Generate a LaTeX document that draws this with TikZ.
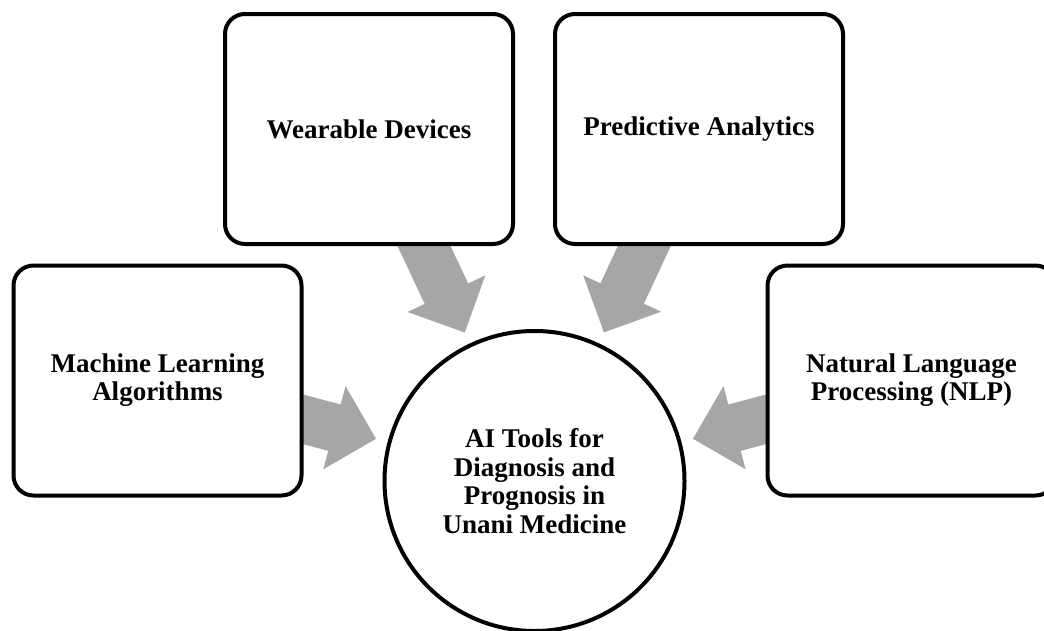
\documentclass[tikz,border=0pt]{standalone}
\usepackage{fontspec}
\setmainfont{Liberation Serif}
\usetikzlibrary{calc,backgrounds}
\definecolor{arrowgray}{HTML}{A6A6A6}
\tikzset{
  box/.style={draw=black, line width=4pt, fill=white, rounded corners=20pt,
    minimum width=288pt, minimum height=230pt, align=center, inner sep=0pt,
    font=\bfseries\fontsize{27}{28}\selectfont},
  hub/.style={draw=black, line width=4pt, fill=white, circle, minimum size=300pt,
    align=center, inner sep=0pt, font=\bfseries\fontsize{27}{28.5}\selectfont},
  blockfill/.style={fill=arrowgray}
}
\newcommand{\blockarrow}[2]{%
  \path[blockfill] let \p1=(#1.center), \p2=($(#2.center)!164pt!(#1.center)$),
    \n1={atan2(\y2-\y1,\x2-\x1)}, \n2={veclen(\x2-\x1,\y2-\y1)} in
    [shift={(\p1)}, rotate=\n1]
    (0,-24) -- (\n2-43,-24) -- (\n2-43,-43) -- (\n2,0) -- (\n2-43,43) -- (\n2-43,24) -- (0,24) -- cycle;
}
\begin{document}
\begin{tikzpicture}[x=1pt,y=-1pt]
  \clip (0,0) rectangle (1044,630);
  \node[hub] (c) at (534.5,481) {AI Tools for\\Diagnosis and\\Prognosis in\\Unani Medicine};
  \node[box] (ml) at (157.5,380.5) {Machine Learning\\Algorithms};
  \node[box] (wd) at (369,129) {Wearable Devices};
  \node[box] (pa) at (699,129) {Predictive Analytics};
  \node[box] (nlp) at (911.5,380.5) {Natural Language\\Processing (NLP)};
  \begin{scope}[on background layer]
    \fill[white] (0,0) rectangle (1044,630);
    \blockarrow{ml}{c}
    \blockarrow{wd}{c}
    \blockarrow{pa}{c}
    \blockarrow{nlp}{c}
  \end{scope}
\end{tikzpicture}
\end{document}
